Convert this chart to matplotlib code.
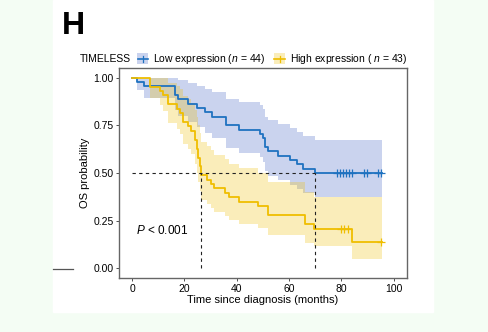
import numpy as np
import matplotlib.pyplot as plt
from matplotlib.patches import Rectangle
from matplotlib.lines import Line2D

plt.rcParams['font.family'] = ['Liberation Sans', 'DejaVu Sans']
plt.rcParams['mathtext.fontset'] = 'custom'
plt.rcParams['mathtext.it'] = 'Liberation Sans:italic'
plt.rcParams['mathtext.rm'] = 'Liberation Sans'

# Low expression (n = 44): KM steps + 95% CI
low_t = [0, 1.7, 4.5, 16.4, 17.6, 21.5, 24.7, 27.9, 30.4, 35.9, 41.0, 48.9, 50.0,
         50.8, 52.1, 55.9, 60.4, 63.2, 65.3, 70.0, 95.5]
low_s = [1.0, 0.977, 0.955, 0.909, 0.886, 0.864, 0.841, 0.818, 0.795, 0.750, 0.727,
         0.705, 0.682, 0.636, 0.614, 0.591, 0.568, 0.545, 0.523, 0.500, 0.500]
low_up = [1.0, 1.0, 1.0, 0.998, 0.985, 0.971, 0.956, 0.940, 0.924, 0.890, 0.872,
          0.854, 0.835, 0.795, 0.776, 0.756, 0.735, 0.714, 0.693, 0.672, 0.672]
low_lo = [1.0, 0.934, 0.895, 0.828, 0.797, 0.768, 0.739, 0.712, 0.685, 0.632, 0.607,
          0.582, 0.557, 0.509, 0.486, 0.462, 0.439, 0.416, 0.394, 0.372, 0.372]
low_cens = [78.5, 79.6, 80.5, 81.9, 82.8, 84.1, 88.8, 89.8, 93.9, 95.0]

# High expression (n = 43)
high_t = [0, 7.0, 10.6, 11.9, 13.8, 17.0, 18.3, 19.5, 21.5, 22.5, 24.0, 24.8, 25.3,
          25.8, 26.5, 28.5, 30.0, 31.5, 35.5, 37.0, 41.0, 48.3, 52.1, 66.0, 69.7,
          84.1, 95.5]
high_s = [1.0, 0.953, 0.930, 0.907, 0.860, 0.837, 0.814, 0.767, 0.744, 0.721, 0.674,
          0.628, 0.581, 0.535, 0.488, 0.465, 0.442, 0.419, 0.395, 0.372, 0.349,
          0.326, 0.279, 0.233, 0.209, 0.140, 0.140]
high_up = [1.0, 1.0, 1.0, 0.998, 0.970, 0.955, 0.939, 0.904, 0.887, 0.869, 0.830,
           0.791, 0.749, 0.707, 0.663, 0.641, 0.618, 0.596, 0.572, 0.549, 0.525,
           0.501, 0.451, 0.401, 0.374, 0.376, 0.376]
high_lo = [1.0, 0.892, 0.857, 0.824, 0.762, 0.733, 0.706, 0.650, 0.624, 0.599, 0.547,
           0.499, 0.451, 0.405, 0.359, 0.337, 0.316, 0.295, 0.273, 0.252, 0.232,
           0.212, 0.173, 0.135, 0.117, 0.052, 0.052]
high_cens = [79.8, 81.1, 82.4, 95.0]

x_ticks = [0, 20, 40, 60, 80, 100]
y_ticks = [0.0, 0.25, 0.5, 0.75, 1.0]

blue = '#1f72c0'
yellow = '#efbe00'

fig = plt.figure(figsize=(4.89, 3.32), dpi=100, facecolor='#f4fdf4')
# white panel behind the chart
fig.patches.append(Rectangle((53 / 489, 1 - 312 / 332), 380 / 489, 312 / 332,
                             transform=fig.transFigure, color='white', zorder=-5))
fig.add_artist(Line2D([53 / 489, 73 / 489], [1 - 269 / 332] * 2, color='#555555', lw=0.9))

ax = fig.add_axes([119 / 489, 1 - 278 / 332, 287.7 / 489, 210 / 332])
ax.set_zorder(2)

def draw(t, s, up, lo, cens, col, fill, alpha):
    ax.fill_between(t, lo, up, step='post', color=fill, alpha=alpha, lw=0)
    ax.step(t, s, where='post', color=col, lw=1.3)
    idx = np.searchsorted(t, cens, side='right') - 1
    ax.plot(cens, np.array(s)[idx], ls='none', marker='+', ms=5.5, mew=0.9, color=col)

draw(low_t, low_s, low_up, low_lo, low_cens, blue, '#5a78cc', 0.32)
draw(high_t, high_s, high_up, high_lo, high_cens, yellow, '#efc000', 0.27)

# median lines
med_low = low_t[np.argmax(np.array(low_s) <= 0.5)]
med_high = high_t[np.argmax(np.array(high_s) <= 0.5)]
ax.plot([0, max(med_low, med_high)], [0.5, 0.5], ls=(0, (3, 3)), color='#222222', lw=0.8)
for m in (med_low, med_high):
    ax.plot([m, m], [0, 0.5], ls=(0, (3, 3)), color='#222222', lw=0.8)

ax.text(1.5, 0.2, r'$P$ < 0.001', fontsize=8.5, va='center')

ax.set_xlim(-5, 105)
ax.set_ylim(-0.05, 1.05)
ax.set_xticks(x_ticks)
ax.set_yticks(y_ticks)
ax.set_yticklabels(['%.2f' % v for v in y_ticks])
ax.tick_params(labelsize=7.5, length=2.5, width=0.6, color='#333333', pad=1.5)
for sp in ax.spines.values():
    sp.set_color('#666666')
    sp.set_linewidth(1.0)
ax.set_xlabel('Time since diagnosis (months)', fontsize=8, labelpad=1)
ax.set_ylabel('OS probability', fontsize=8, labelpad=2)

fig.text(62 / 489, 1 - 34 / 332, 'H', fontsize=23, fontweight='bold', va='baseline')

# legend row
ly = 1 - 58.5 / 332
fig.text(80 / 489, ly, 'TIMELESS', fontsize=7.5, va='center')
for x0, col, fill, a, lab in [(137, blue, '#5a78cc', 0.32, 'Low expression ($n$ = 44)'),
                              (274, yellow, '#efc000', 0.27, 'High expression ( $n$ = 43)')]:
    fig.patches.append(Rectangle((x0 / 489, 1 - 64 / 332), 11.5 / 489, 11 / 332,
                                 transform=fig.transFigure, color=fill, alpha=a, lw=0))
    fig.add_artist(Line2D([(x0 + 0.5) / 489, (x0 + 11) / 489], [ly, ly], color=col, lw=1.2))
    fig.add_artist(Line2D([(x0 + 5.75) / 489] * 2, [ly - 3 / 332, ly + 3 / 332], color=col, lw=0.9))
    fig.text((x0 + 16) / 489, ly, lab, fontsize=7.5, va='center')

fig.savefig('out.png', dpi=100, facecolor=fig.get_facecolor())
